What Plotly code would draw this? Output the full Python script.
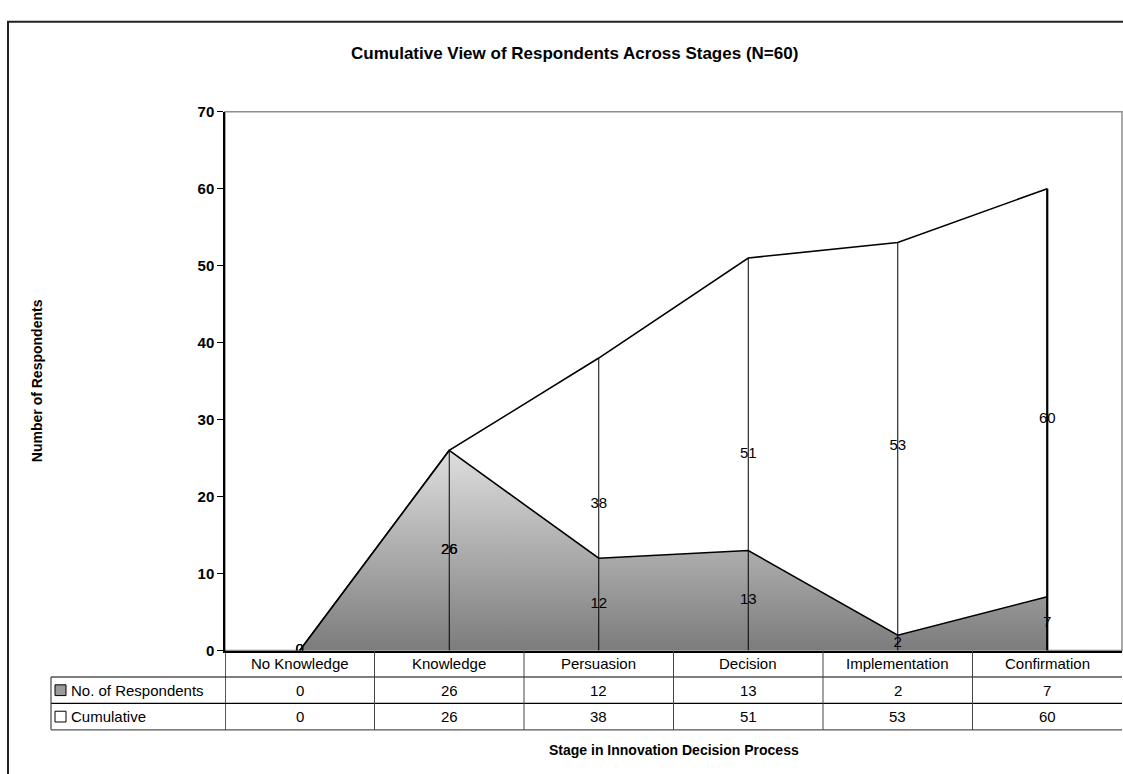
import plotly.graph_objects as go

# ---------------- data ----------------
stages = ["No Knowledge", "Knowledge", "Persuasion", "Decision", "Implementation", "Confirmation"]
respondents = [0, 26, 12, 13, 2, 7]
cumulative = [0, 26, 38, 51, 53, 60]
y_ticks = [0, 10, 20, 30, 40, 50, 60, 70]
row_names = ["No. of Respondents", "Cumulative"]

title_text = "Cumulative View of Respondents Across Stages (N=60)"
x_title = "Stage in Innovation Decision Process"
y_title = "Number of Respondents"

# ---------------- layout geometry (pixels) ----------------
W, H = 1123, 774
PL, PR, PT, PB = 225, 1122, 105, 656      # plot area
ROWS = [656, 683, 710, 737]               # table row boundaries
TBL_LEFT = 51
FONT = "Liberation Sans, Arial, sans-serif"


def px(x):
    return x / W


def py(y):
    return 1 - y / H


idx = list(range(len(stages)))
fig = go.Figure()

# Cumulative area (white, behind)
fig.add_trace(go.Scatter(
    x=idx, y=cumulative, mode="lines", fill="tozeroy", fillcolor="white",
    line=dict(color="black", width=1.6), hoverinfo="skip", showlegend=False))

# Respondents area (gray gradient, in front)
fig.add_trace(go.Scatter(
    x=idx, y=respondents, mode="lines", fill="tozeroy",
    fillgradient=dict(type="vertical", colorscale=[[0, "#7c7c7c"], [1, "#dedede"]]),
    line=dict(color="black", width=1.6), hoverinfo="skip", showlegend=False))

# Drop lines
dx, dy = [], []
for i, v in zip(idx, cumulative):
    dx += [i, i, None]
    dy += [0, v, None]
fig.add_trace(go.Scatter(x=dx, y=dy, mode="lines", line=dict(color="black", width=1),
                         hoverinfo="skip", showlegend=False))
fig.add_trace(go.Scatter(x=[idx[-1], idx[-1]], y=[0, cumulative[-1]], mode="lines",
                         line=dict(color="black", width=2.2), hoverinfo="skip", showlegend=False))

# Data labels (centred in the area, i.e. at half value)
for series in (respondents, cumulative):
    fig.add_trace(go.Scatter(
        x=idx, y=[v / 2 for v in series], mode="text", text=[str(v) for v in series],
        textposition="middle center", textfont=dict(family=FONT, size=15, color="black"),
        hoverinfo="skip", showlegend=False))

shapes = []
# plot area border (gray)
shapes.append(dict(type="rect", xref="x domain", yref="y domain", x0=0, x1=1, y0=0, y1=1,
                   line=dict(color="#8c8c8c", width=1.5), layer="below"))
# outer chart frame
shapes.append(dict(type="rect", xref="paper", yref="paper", x0=px(8), x1=px(1140),
                   y0=py(790), y1=py(13), line=dict(color="#222222", width=2)))

# table horizontal lines
row_line_cols = ["#555555", "black", "#555555"]
for yy, c in zip(ROWS[1:], row_line_cols):
    shapes.append(dict(type="line", xref="paper", yref="paper", x0=px(TBL_LEFT), x1=px(PR),
                       y0=py(yy), y1=py(yy), line=dict(color=c, width=1.3)))
# table vertical lines at category boundaries
for i in range(len(stages)):
    b = i - 0.5
    shapes.append(dict(type="line", xref="x", yref="paper", x0=b, x1=b,
                       y0=py(ROWS[0]), y1=py(ROWS[-1]),
                       line=dict(color="black" if i == 0 else "#444444", width=1.3 if i == 0 else 1)))
# row label column left border
shapes.append(dict(type="line", xref="paper", yref="paper", x0=px(TBL_LEFT), x1=px(TBL_LEFT),
                   y0=py(ROWS[1]), y1=py(ROWS[-1]), line=dict(color="#444444", width=1.2)))

annotations = []
# legend keys + row names
key_fill = ["#9a9a9a", "white"]
for r, (name, kf) in enumerate(zip(row_names, key_fill)):
    cy = (ROWS[r + 1] + ROWS[r + 2]) / 2
    shapes.append(dict(type="rect", xref="paper", yref="paper",
                       x0=px(55), x1=px(66), y0=py(cy + 5.5), y1=py(cy - 5.5),
                       line=dict(color="black", width=1), fillcolor=kf))
    annotations.append(dict(text=name, xref="paper", yref="paper", x=px(69), y=py(cy),
                            xanchor="left", yanchor="middle", showarrow=False,
                            font=dict(family=FONT, size=15, color="black")))

# header row: category names
hy = (ROWS[0] + ROWS[1]) / 2
for i, s in zip(idx, stages):
    annotations.append(dict(text=s, xref="x", yref="paper", x=i, y=py(hy),
                            xanchor="center", yanchor="middle", showarrow=False,
                            font=dict(family=FONT, size=15, color="black")))
# values rows
for r, series in enumerate((respondents, cumulative)):
    cy = (ROWS[r + 1] + ROWS[r + 2]) / 2
    for i, v in zip(idx, series):
        annotations.append(dict(text=str(v), xref="x", yref="paper", x=i, y=py(cy),
                                xanchor="center", yanchor="middle", showarrow=False,
                                font=dict(family=FONT, size=15, color="black")))

# titles
annotations.append(dict(text="<b>" + title_text + "</b>", xref="paper", yref="paper",
                        x=px(574), y=py(46), xanchor="center", yanchor="middle", showarrow=False,
                        font=dict(family=FONT, size=17, color="black")))
annotations.append(dict(text="<b>" + x_title + "</b>", xref="paper", yref="paper",
                        x=px((PL + PR) / 2), y=py(758), xanchor="center", yanchor="middle",
                        showarrow=False, font=dict(family=FONT, size=14, color="black")))
annotations.append(dict(text="<b>" + y_title + "</b>", xref="paper", yref="paper",
                        x=px(37), y=py((PT + PB) / 2), xanchor="center", yanchor="middle",
                        textangle=-90, showarrow=False,
                        font=dict(family=FONT, size=14, color="black")))

fig.update_layout(
    width=W, height=H, margin=dict(l=0, r=0, t=0, b=0),
    paper_bgcolor="white", plot_bgcolor="white",
    shapes=shapes, annotations=annotations, showlegend=False,
    xaxis=dict(domain=[px(PL), px(PR)], range=[-0.5, len(stages) - 0.5],
               showticklabels=False, showgrid=False, zeroline=False,
               showline=True, linecolor="black", linewidth=2, ticks=""),
    yaxis=dict(domain=[py(PB), py(PT)], range=[0, 70], tickvals=y_ticks,
               ticktext=["<b>%d</b>" % t for t in y_ticks],
               tickfont=dict(family=FONT, size=15, color="black"),
               ticks="outside", ticklen=6, tickcolor="black", tickwidth=1,
               showgrid=False, zeroline=False, showline=True, linecolor="black", linewidth=1.5),
)

fig.write_html("out.html", config={"displayModeBar": False},
               post_script="document.body.style.margin='0';document.body.style.overflow='hidden';")
